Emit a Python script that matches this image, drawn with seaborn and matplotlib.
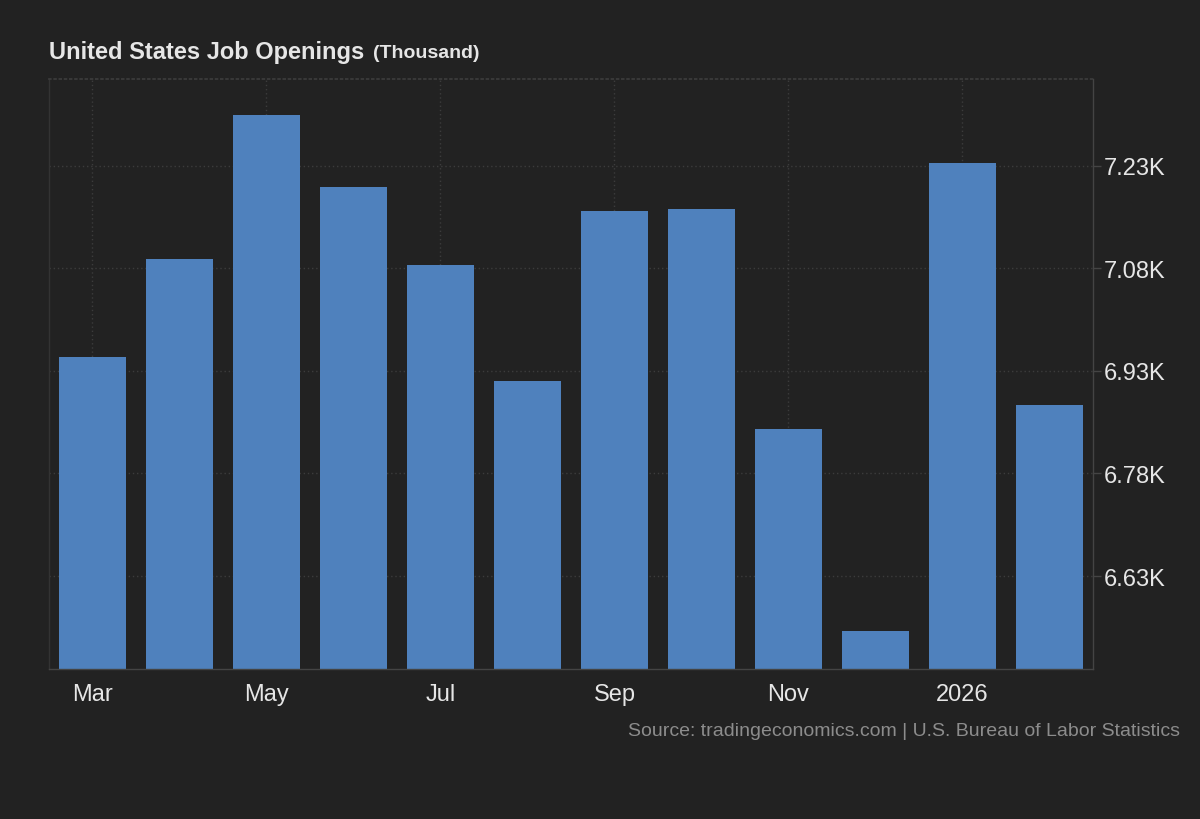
import numpy as np
import pandas as pd
from matplotlib import pyplot as plt
import seaborn as sns

# job openings in K (thousand thousands)
months = ['Mar', 'Apr', 'May', 'Jun', 'Jul', 'Aug', 'Sep', 'Oct', 'Nov', 'Dec', 'Jan', 'Feb']
openings = [6.950, 7.094, 7.305, 7.199, 7.085, 6.915, 7.164, 7.167, 6.845, 6.550, 7.234, 6.880]
tick_months = ['Mar', 'May', 'Jul', 'Sep', 'Nov', '2026']
y_ticks = [6.63, 6.78, 6.93, 7.08, 7.23]

bg = '#222222'
bar_color = '#4f81bd'
text_color = '#e6e6e6'
grid_color = '#3c3c3c'

sns.set_theme(style='dark')
plt.rcParams['font.family'] = ['Liberation Sans', 'DejaVu Sans']

df = pd.DataFrame({'month': months, 'value': openings})

fig = plt.figure(figsize=(12, 8.2), dpi=100, facecolor=bg)
ax = fig.add_axes([0.0408, 0.1829, 0.8700, 0.7195], facecolor=bg)

sns.barplot(data=df, x='month', y='value', color=bar_color, saturation=1,
            width=0.78, linewidth=0, edgecolor=bar_color, ax=ax, zorder=2)

ax.set_xlim(-0.5, 11.5)
ax.set_ylim(6.494, 7.357)

ax.set_xticks(range(0, 12, 2))
ax.set_xticklabels(tick_months)
ax.set_yticks(y_ticks)
ax.set_yticklabels([f'{v:.2f}K' for v in y_ticks])
ax.yaxis.tick_right()

ax.tick_params(axis='x', colors=text_color, labelsize=17, length=0, pad=10)
ax.tick_params(axis='y', colors=text_color, labelsize=17, length=6, width=1,
               direction='out', pad=2, color='#444444')
for lab in ax.get_xticklabels() + ax.get_yticklabels():
    lab.set_color(text_color)

ax.grid(True, axis='both', linestyle=(0, (1, 2)), color=grid_color, linewidth=1, zorder=0)
ax.set_axisbelow(True)

for side in ['left', 'right', 'bottom']:
    ax.spines[side].set_visible(True)
    ax.spines[side].set_color('#444444')
    ax.spines[side].set_linewidth(1)
ax.spines['left'].set_color('#333333')
ax.spines['top'].set_visible(True)
ax.spines['top'].set_color(grid_color)
ax.spines['top'].set_linestyle((0, (1, 2)))

ax.set_xlabel('')
ax.set_ylabel('')

fig.text(49 / 1200, 1 - 52 / 820, 'United States Job Openings', color=text_color,
         fontsize=17, fontweight='bold', va='center', ha='left')
fig.text(373 / 1200, 1 - 53 / 820, '(Thousand)', color=text_color,
         fontsize=14, fontweight='bold', va='center', ha='left')
fig.text(1180 / 1200, 1 - 732 / 820,
         'Source: tradingeconomics.com | U.S. Bureau of Labor Statistics',
         color='#8c8c8c', fontsize=14, va='center', ha='right')

fig.savefig('out.png', dpi=100, facecolor=bg)
